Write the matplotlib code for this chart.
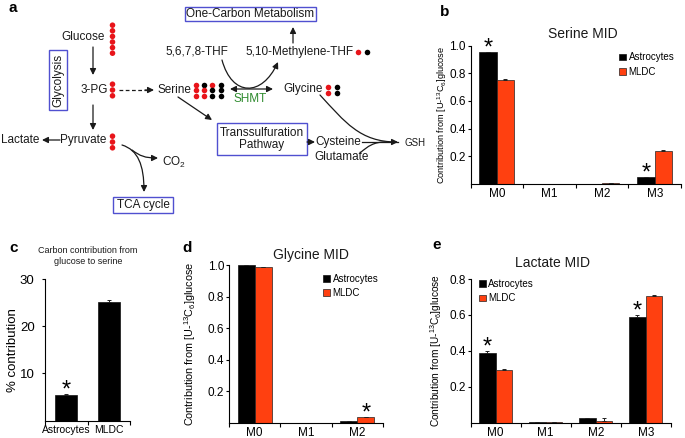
import numpy as np
import matplotlib
matplotlib.use('Agg')
import matplotlib.pyplot as plt
from matplotlib.patches import Rectangle, FancyArrowPatch, Patch
from matplotlib.path import Path

plt.rcParams['font.family'] = ['Liberation Sans', 'DejaVu Sans']
plt.rcParams['mathtext.fontset'] = 'custom'
plt.rcParams['mathtext.rm'] = 'Liberation Sans'
plt.rcParams['mathtext.it'] = 'Liberation Sans:italic'

W, H = 685, 438

# ---- data ----
cells = ['Astrocytes', 'MLDC']

serine_iso = ['M0', 'M1', 'M2', 'M3']
serine_astro = [0.95, 0.002, 0.001, 0.05]
serine_mldc = [0.75, 0.002, 0.006, 0.24]
serine_astro_err = [0.003, 0.0, 0.0, 0.003]
serine_mldc_err = [0.005, 0.0, 0.002, 0.005]
serine_sig = [0, 3]     # asterisks over astrocyte bars

glycine_iso = ['M0', 'M1', 'M2']
glycine_astro = [1.0, 0.0, 0.008]
glycine_mldc = [0.985, 0.0, 0.033]
glycine_astro_err = [0.0, 0.0, 0.001]
glycine_mldc_err = [0.0, 0.0, 0.002]

lactate_iso = ['M0', 'M1', 'M2', 'M3']
lactate_astro = [0.39, 0.002, 0.024, 0.59]
lactate_mldc = [0.293, 0.002, 0.01, 0.705]
lactate_astro_err = [0.01, 0.0, 0.0, 0.01]
lactate_mldc_err = [0.008, 0.0, 0.015, 0.006]
lactate_sig = [0, 3]

contrib_pct = [5.4, 25.1]
contrib_err = [0.2, 0.5]

# labelled carbons in the pathway sketch (r = 13C, k = 12C)
glucose_dots = ['r'] * 6
pg_dots = ['r'] * 3
pyruvate_dots = ['r'] * 3
serine_dots = [['r', 'k', 'r', 'k'],
               ['r', 'r', 'k', 'k'],
               ['r', 'r', 'k', 'k']]
glycine_dots = [['r', 'k'], ['r', 'k']]
methylene_dots = ['r', 'k']

BLACK = '#000000'
ORANGE = '#ff4010'
RED = '#e8141a'
BOXC = '#5050d0'
TXT = '#1a1a1a'
dotcol = {'r': RED, 'k': BLACK}

fig = plt.figure(figsize=(W / 100, H / 100), dpi=100)

# overlay in pixel coordinates for the sketch and labels
ax0 = fig.add_axes([0, 0, 1, 1])
ax0.set_xlim(0, W)
ax0.set_ylim(H, 0)
ax0.axis('off')


def px_axes(x0, y0, x1, y1):
    return fig.add_axes([x0 / W, 1 - y1 / H, (x1 - x0) / W, (y1 - y0) / H])


def arrow(p0, p1, style='-|>'):
    ax0.add_patch(FancyArrowPatch(p0, p1, arrowstyle=style, mutation_scale=9,
                                  lw=0.9, color=TXT, shrinkA=0, shrinkB=0))


def curve(pts, head=True):
    codes = [Path.MOVETO] + [Path.CURVE4] * 3
    ax0.add_patch(FancyArrowPatch(path=Path(pts, codes),
                                  arrowstyle='-|>' if head else '-',
                                  mutation_scale=9, lw=0.9, color=TXT))


def box(x0, y0, x1, y1):
    ax0.add_patch(Rectangle((x0, y0), x1 - x0, y1 - y0, fc='white',
                            ec=BOXC, lw=1.0))


def label(x, y, s, **kw):
    kw.setdefault('fontsize', 8.5)
    kw.setdefault('color', TXT)
    ax0.text(x, y, s, ha='center', va='center', **kw)


# ---------------- panel a ----------------
ax0.text(13, 8, 'a', fontsize=11, fontweight='bold', ha='center', va='center')

box(185, 7, 316, 21)
label(250.5, 14, 'One-Carbon Metabolism')
box(49, 50, 67, 110)
label(58, 80, 'Glycolysis', rotation=90)
box(217, 123, 307, 155)
label(262, 139, 'Transsulfuration\nPathway', linespacing=1.1)
box(113, 197, 173, 213)
label(143, 205, 'TCA cycle')

label(83, 37, 'Glucose')
label(94, 90, '3-PG')
label(83, 140, 'Pyruvate')
label(20, 140, 'Lactate')
ax0.text(162, 162, 'CO$_2$', fontsize=8.5, color=TXT, ha='left', va='center')
label(174, 90, 'Serine')
label(303, 89, 'Glycine')
label(197, 52, '5,6,7,8-THF')
label(300, 52, '5,10-Methylene-THF')
label(250, 99, 'SHMT', color='#2e8b2e')
label(338, 142, 'Cysteine')
label(342, 157, 'Glutamate')
label(415, 143, 'GSH', fontsize=7)

# carbon dots
gy = 25.2 + np.arange(len(glucose_dots)) * 5.6
ax0.scatter([112.5] * len(gy), gy, s=16, c=[dotcol[c] for c in glucose_dots], lw=0)
py = 84.2 + np.arange(len(pg_dots)) * 5.8
ax0.scatter([112.5] * len(py), py, s=16, c=[dotcol[c] for c in pg_dots], lw=0)
ax0.scatter([112.5] * len(py), py + 52, s=16, c=[dotcol[c] for c in pyruvate_dots], lw=0)
for i, row in enumerate(serine_dots):
    for j, c in enumerate(row):
        ax0.scatter(196 + j * 8.2, 84.5 + i * 5.5, s=16, c=dotcol[c], lw=0)
for i, row in enumerate(glycine_dots):
    for j, c in enumerate(row):
        ax0.scatter(328 + j * 9, 87 + i * 6, s=16, c=dotcol[c], lw=0)
for j, c in enumerate(methylene_dots):
    ax0.scatter(358 + j * 9, 52, s=16, c=dotcol[c], lw=0)

# arrows
arrow((93, 47), (93, 75))
arrow((93, 105), (93, 130))
arrow((60, 140), (42, 140))
ax0.plot([119, 147], [90, 90], color=TXT, lw=0.9, ls=(0, (3, 2)))
arrow((145, 90), (154, 90))
arrow((178, 97), (212, 120))
arrow((230, 89), (273, 89), style='<|-|>')
curve([(222, 60), (232, 97), (262, 97), (278, 62)])
arrow((293, 43), (293, 27))
curve([(320, 95), (345, 122), (360, 142), (398, 142)])
arrow((307, 142), (315, 142))
ax0.plot([362, 398], [142, 142], color=TXT, lw=0.9)
curve([(360, 153), (368, 146), (374, 142), (385, 142)], head=False)
curve([(122, 145), (138, 150), (144, 165), (144, 192)])
curve([(132, 150), (140, 156), (145, 158), (158, 158)])


# ---------------- bar panels ----------------
def style_axes(ax, n, labels, yticks, ylabels, fs=8.5):
    for s in ['top', 'right']:
        ax.spines[s].set_visible(False)
    for s in ['left', 'bottom']:
        ax.spines[s].set_linewidth(0.8)
    ax.set_xlim(-0.5, n - 0.5)
    ax.set_xticks(np.arange(-0.5, n, 1))
    ax.set_xticklabels([])
    ax.set_xticks(np.arange(n), minor=True)
    ax.set_xticklabels(labels, minor=True)
    ax.tick_params(axis='x', which='major', length=3, width=0.8, direction='out')
    ax.tick_params(axis='x', which='minor', length=0, labelsize=fs, pad=3)
    ax.set_yticks(yticks)
    ax.set_yticklabels(ylabels)
    ax.tick_params(axis='y', length=2.5, width=0.8, labelsize=fs, pad=1)


def mid_panel(box_px, labels, astro, mldc, aerr, merr, ymax, yticks):
    ax = px_axes(*box_px)
    n = len(labels)
    x = np.arange(n)
    w = 0.33
    ekw = dict(ecolor='#222222', elinewidth=0.7, capsize=1.5, capthick=0.7)
    ax.bar(x - w / 2, astro, w, color=BLACK, edgecolor='#111111', lw=0.5,
           yerr=[np.zeros(n), aerr], error_kw=ekw, label=cells[0])
    ax.bar(x + w / 2, mldc, w, color=ORANGE, edgecolor='#222222', lw=0.5,
           yerr=[np.zeros(n), merr], error_kw=ekw, label=cells[1])
    ax.set_ylim(0, ymax)
    style_axes(ax, n, labels, yticks, ['%.1f' % t for t in yticks])
    return ax, x, w


def star(ax, x, y):
    ax.annotate('*', xy=(x, y), xytext=(0, -2), textcoords='offset points',
                ha='center', va='baseline', fontsize=17, annotation_clip=False)


def legend(ax, bx, by):
    h = [Patch(fc=BLACK, ec='#111111', lw=0.5), Patch(fc=ORANGE, ec='#222222', lw=0.5)]
    ax.legend(h, cells, loc='upper left', bbox_to_anchor=(bx, by), frameon=False,
              fontsize=7, handlelength=0.7, handleheight=0.7, handletextpad=0.3,
              labelspacing=0.45, borderpad=0, borderaxespad=0)


def ylab(ax, text, xpx, box_px, fs=6.5):
    # xpx is the centre of the rotated label; the anchor is its right edge
    x0, y0, x1, y1 = box_px
    ax.set_ylabel(text, fontsize=fs)
    xr = xpx + fs * 100 / 72 * 0.45
    ax.yaxis.set_label_coords((xr - x0) / (x1 - x0), 0.5)


YLAB = 'Contribution from [U-$^{13}$C$_6$]glucose'

# b: serine MID
b_box = (470.5, 45.5, 681, 184)
axb, xb, wb = mid_panel(b_box, serine_iso, serine_astro, serine_mldc,
                        serine_astro_err, serine_mldc_err, 1.0,
                        [0.2, 0.4, 0.6, 0.8, 1.0])
for i in serine_sig:
    star(axb, xb[i] - wb / 2, serine_astro[i] + serine_astro_err[i])
legend(axb, 0.705, 0.95)
ylab(axb, YLAB, 445, b_box, fs=6.6)
ax0.text(445, 12, 'b', fontsize=11, fontweight='bold', ha='center', va='center')
ax0.text(583, 34, 'Serine MID', fontsize=10, ha='center', va='center', color=TXT)

# c: carbon contribution
c_box = (45, 279, 130, 420.5)
axc = px_axes(*c_box)
axc.bar([0, 1], contrib_pct, 0.52, color=BLACK, edgecolor='#111111', lw=0.5,
        yerr=[[0, 0], contrib_err],
        error_kw=dict(ecolor='#222222', elinewidth=0.7, capsize=1.5, capthick=0.7))
axc.set_ylim(0, 30)
style_axes(axc, 2, cells, [10, 20, 30], ['10', '20', '30'], fs=9.5)
axc.tick_params(axis='x', which='minor', labelsize=7.5, pad=3)
axc.tick_params(axis='y', pad=5, length=2.5)
star(axc, 0, contrib_pct[0] + contrib_err[0])
ylab(axc, '% contribution', 13, c_box, fs=9.5)
ax0.text(14, 248, 'c', fontsize=11, fontweight='bold', ha='center', va='center')
ax0.text(88, 256, 'Carbon contribution from\nglucose to serine', fontsize=6.5,
         ha='center', va='center', color=TXT, linespacing=1.3)

# d: glycine MID
d_box = (229, 265, 383, 422.7)
axd, xd, wd = mid_panel(d_box, glycine_iso, glycine_astro, glycine_mldc,
                        glycine_astro_err, glycine_mldc_err, 1.0,
                        [0.2, 0.4, 0.6, 0.8, 1.0])
star(axd, xd[2] + wd / 2, glycine_mldc[2] + glycine_mldc_err[2])
legend(axd, 0.61, 0.945)
ylab(axd, YLAB, 193, d_box, fs=7.8)
ax0.text(187, 248, 'd', fontsize=11, fontweight='bold', ha='center', va='center')
ax0.text(311, 255, 'Glycine MID', fontsize=10, ha='center', va='center', color=TXT)

# e: lactate MID
e_box = (470.7, 279, 670.7, 422.7)
axe, xe, we = mid_panel(e_box, lactate_iso, lactate_astro, lactate_mldc,
                        lactate_astro_err, lactate_mldc_err, 0.8,
                        [0.2, 0.4, 0.6, 0.8])
for i in lactate_sig:
    star(axe, xe[i] - we / 2, lactate_astro[i] + lactate_astro_err[i])
legend(axe, 0.04, 1.0)
ylab(axe, YLAB, 439, e_box, fs=7.3)
ax0.text(437, 245, 'e', fontsize=11, fontweight='bold', ha='center', va='center')
ax0.text(553, 263, 'Lactate MID', fontsize=10, ha='center', va='center', color=TXT)

fig.savefig('out.png', dpi=100)
